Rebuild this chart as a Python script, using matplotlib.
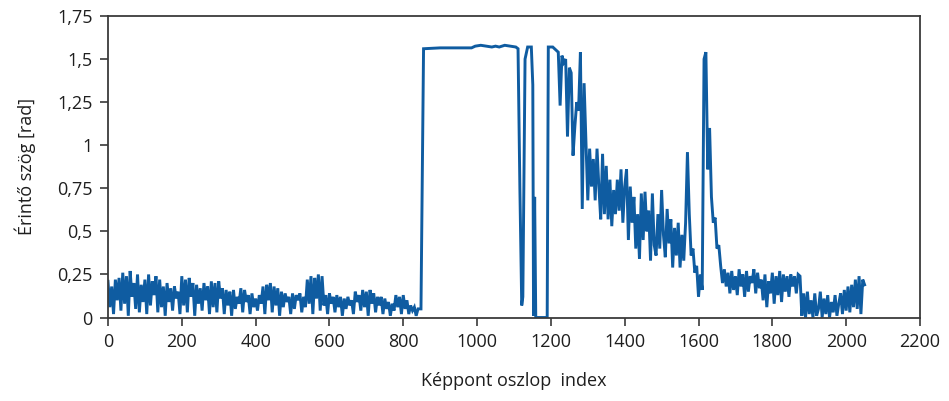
import numpy as np
import matplotlib
matplotlib.use("Agg")
import matplotlib.pyplot as plt
from matplotlib.ticker import FuncFormatter

plt.rcParams['font.family'] = ['Open Sans', 'DejaVu Sans']

# zajos szakasz 0..840 (5-os lepes)
x_a = np.arange(0, 841, 5)
y_a = [0.21, 0.06, 0.18, 0.02, 0.22, 0.10, 0.23, 0.04, 0.26, 0.08,
       0.24, 0.01, 0.27, 0.12, 0.20, 0.05, 0.25, 0.03, 0.19, 0.09,
       0.22, 0.02, 0.25, 0.07, 0.21, 0.13, 0.24, 0.03, 0.22, 0.06,
       0.18, 0.01, 0.20, 0.09, 0.17, 0.04, 0.18, 0.11, 0.15, 0.02,
       0.24, 0.07, 0.22, 0.03, 0.23, 0.12, 0.20, 0.01, 0.19, 0.08,
       0.17, 0.04, 0.20, 0.10, 0.18, 0.02, 0.21, 0.06, 0.20, 0.03,
       0.21, 0.11, 0.17, 0.02, 0.16, 0.07, 0.15, 0.01, 0.16, 0.05,
       0.12, 0.08, 0.17, 0.03, 0.16, 0.09, 0.13, 0.02, 0.14, 0.06,
       0.11, 0.04, 0.13, 0.08, 0.18, 0.02, 0.19, 0.10, 0.20, 0.03,
       0.18, 0.07, 0.17, 0.01, 0.15, 0.06, 0.14, 0.09, 0.12, 0.02,
       0.14, 0.05, 0.13, 0.10, 0.14, 0.03, 0.12, 0.06, 0.22, 0.08,
       0.24, 0.02, 0.23, 0.11, 0.25, 0.04, 0.24, 0.07, 0.13, 0.02,
       0.14, 0.08, 0.12, 0.03, 0.13, 0.06, 0.12, 0.01, 0.11, 0.05,
       0.12, 0.07, 0.10, 0.02, 0.15, 0.09, 0.13, 0.04, 0.16, 0.06,
       0.15, 0.01, 0.16, 0.08, 0.14, 0.03, 0.12, 0.07, 0.12, 0.02,
       0.11, 0.05, 0.09, 0.01, 0.08, 0.04, 0.13, 0.06, 0.12, 0.02,
       0.13, 0.05, 0.10, 0.02, 0.07, 0.04, 0.06, 0.01, 0.05]

# telitett szakasz
x_b = [848, 855, 900, 950, 985, 995, 1010, 1025, 1040, 1050, 1060, 1075,
       1090, 1105, 1111, 1116, 1121, 1124, 1130, 1137, 1147, 1151, 1153,
       1156, 1159, 1190, 1193]
y_b = [0.05, 1.56, 1.565, 1.565, 1.565, 1.575, 1.58, 1.575, 1.57, 1.575,
       1.57, 1.58, 1.575, 1.57, 1.56, 0.75, 0.07, 0.12, 1.50, 1.57, 1.57,
       1.35, 0.01, 0.70, 0.0, 0.0, 1.57]

# lecsengo szakasz 1200..2050 (5-os lepes)
x_c = np.arange(1200, 2051, 5)
y_c = [1.57, 1.57, 1.56, 1.55, 1.54, 1.23, 1.52, 1.48, 1.50, 1.05,
       1.45, 1.42, 0.94, 1.11, 1.25, 1.20, 1.54, 0.63, 1.36, 1.01,
       0.68, 0.98, 0.76, 0.92, 0.68, 0.98, 0.76, 0.57, 0.95, 0.60,
       0.88, 0.57, 0.80, 0.53, 0.74, 0.60, 0.80, 0.62, 0.86, 0.55,
       0.76, 0.86, 0.45, 0.76, 0.55, 0.70, 0.40, 0.60, 0.34, 0.72,
       0.45, 0.73, 0.50, 0.62, 0.33, 0.72, 0.42, 0.36, 0.60, 0.40,
       0.74, 0.48, 0.35, 0.63, 0.43, 0.57, 0.29, 0.52, 0.36, 0.55,
       0.29, 0.48, 0.33, 0.55, 0.96, 0.60, 0.36, 0.40, 0.26, 0.30,
       0.12, 0.25, 0.16, 1.50, 1.54, 0.86, 1.10, 0.70, 0.55, 0.58,
       0.40, 0.42, 0.30, 0.20, 0.28, 0.18, 0.26, 0.14, 0.27, 0.16,
       0.24, 0.13, 0.28, 0.18, 0.25, 0.12, 0.27, 0.15, 0.24, 0.20,
       0.28, 0.14, 0.26, 0.17, 0.22, 0.10, 0.25, 0.06, 0.21, 0.14,
       0.26, 0.08, 0.24, 0.13, 0.27, 0.09, 0.25, 0.15, 0.24, 0.12,
       0.25, 0.18, 0.24, 0.14, 0.25, 0.24, 0.01, 0.14, 0.00, 0.15,
       0.02, 0.10, 0.00, 0.14, 0.01, 0.05, 0.15, 0.00, 0.11, 0.02,
       0.13, 0.00, 0.09, 0.03, 0.13, 0.01, 0.08, 0.14, 0.02, 0.16,
       0.04, 0.18, 0.03, 0.19, 0.06, 0.22, 0.05, 0.24, 0.02, 0.22,
       0.19]

x = np.concatenate([x_a, x_b, x_c])
y = np.concatenate([y_a, y_b, y_c])

line_color = '#0f5ca1'
frame_color = '#3a3a3a'
text_color = '#1e1e1e'

fig = plt.figure(figsize=(9.49, 4.01), dpi=100)
ax = fig.add_axes([0.1138, 0.2082, 0.8556, 0.7519])
ax.plot(x, y, color=line_color, lw=2.1, solid_joinstyle='miter')

ax.set_xlim(0, 2200)
ax.set_ylim(0, 1.75)
ax.set_xticks(np.arange(0, 2201, 200))
ax.set_yticks(np.arange(0, 1.76, 0.25))
ax.yaxis.set_major_formatter(FuncFormatter(lambda v, p: ('%g' % v).replace('.', ',')))

for s in ax.spines.values():
    s.set_color(frame_color)
    s.set_linewidth(1.3)
ax.tick_params(direction='out', length=6, width=1.2, color=frame_color,
               labelsize=13, labelcolor=text_color, pad=5)

ax.set_xlabel('Képpont oszlop  index', fontsize=13, color=text_color, labelpad=15)
ax.set_ylabel('Érintő szög [rad]', fontsize=13, color=text_color, labelpad=15)

fig.savefig('out.png', dpi=100)
